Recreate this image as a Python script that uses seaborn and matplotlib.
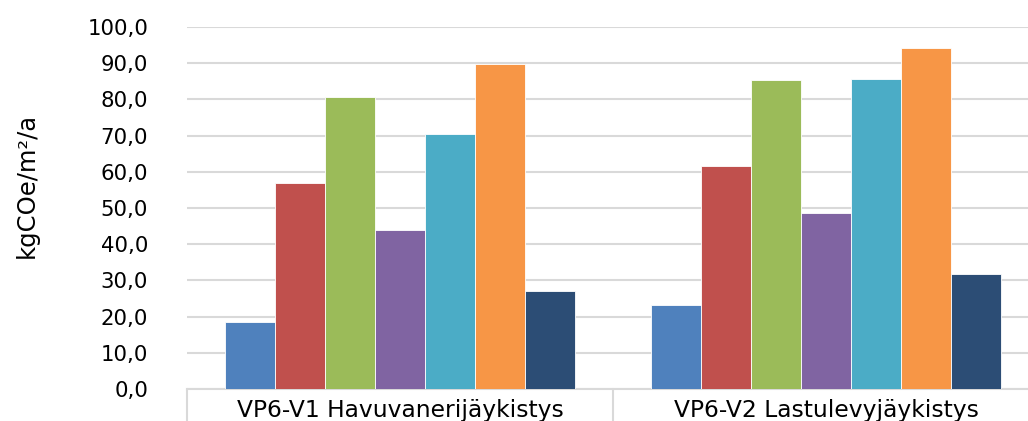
import matplotlib
matplotlib.use("Agg")
import matplotlib.pyplot as plt
import seaborn as sns
import pandas as pd
from matplotlib.ticker import FuncFormatter

categories = ["VP6-V1 Havuvanerijäykistys", "VP6-V2 Lastulevyjäykistys"]
series = ["Sarja 1", "Sarja 2", "Sarja 3", "Sarja 4", "Sarja 5", "Sarja 6", "Sarja 7"]
values_v1 = [18.5, 56.9, 80.8, 44.0, 70.5, 89.9, 27.2]
values_v2 = [23.1, 61.6, 85.4, 48.6, 85.6, 94.2, 31.8]
colors = ["#4F81BD", "#C0504D", "#9BBB59", "#8064A2", "#4BACC6", "#F79646", "#2C4D75"]
yticks = [0, 10, 20, 30, 40, 50, 60, 70, 80, 90, 100]
ylabel = "kgCOe/m²/a"

rows = []
for cat, vals in zip(categories, [values_v1, values_v2]):
    for s, v in zip(series, vals):
        rows.append({"kategoria": cat, "sarja": s, "arvo": v})
df = pd.DataFrame(rows)

sns.set_theme(style="white")
plt.rcParams["font.family"] = ["DejaVu Sans"]

W, H = 1028, 421
fig = plt.figure(figsize=(W / 100, H / 100), dpi=100)
left, right, bottom, top = 187, 1039, 389, 27
ax = fig.add_axes([left / W, 1 - bottom / H, (right - left) / W, (bottom - top) / H])

sns.barplot(data=df, x="kategoria", y="arvo", hue="sarja", order=categories,
            hue_order=series, palette=colors, saturation=1, width=0.82,
            edgecolor="white", linewidth=0.6, legend=False, ax=ax, zorder=3)

ax.set_ylim(0, 100)
ax.set_xlim(-0.5, 1.5)
ax.set_yticks(yticks)
ax.yaxis.set_major_formatter(FuncFormatter(lambda v, p: f"{v:.1f}".replace(".", ",")))
ax.grid(axis="y", color="#D9D9D9", linewidth=1.5, zorder=0)
ax.set_axisbelow(True)
for side in ["top", "right", "left"]:
    ax.spines[side].set_visible(False)
ax.spines["bottom"].set_color("#D9D9D9")
ax.spines["bottom"].set_linewidth(1.5)
ax.tick_params(axis="y", length=0, pad=28, labelsize=15.3, labelcolor="#000000")
ax.tick_params(axis="x", length=0, pad=7, labelsize=16.8, labelcolor="#000000")
ax.set_xlabel("")
ax.set_ylabel("")
for xs in [-0.5, 0.5, 1.5]:
    ax.axvline(xs, ymin=-0.12, ymax=0, color="#D9D9D9", linewidth=1.5, clip_on=False)

fig.text(27 / W, 1 - 185 / H, ylabel, rotation=90, ha="center", va="center",
         fontsize=17.5, color="#000000")

fig.savefig("out.png", dpi=100)
